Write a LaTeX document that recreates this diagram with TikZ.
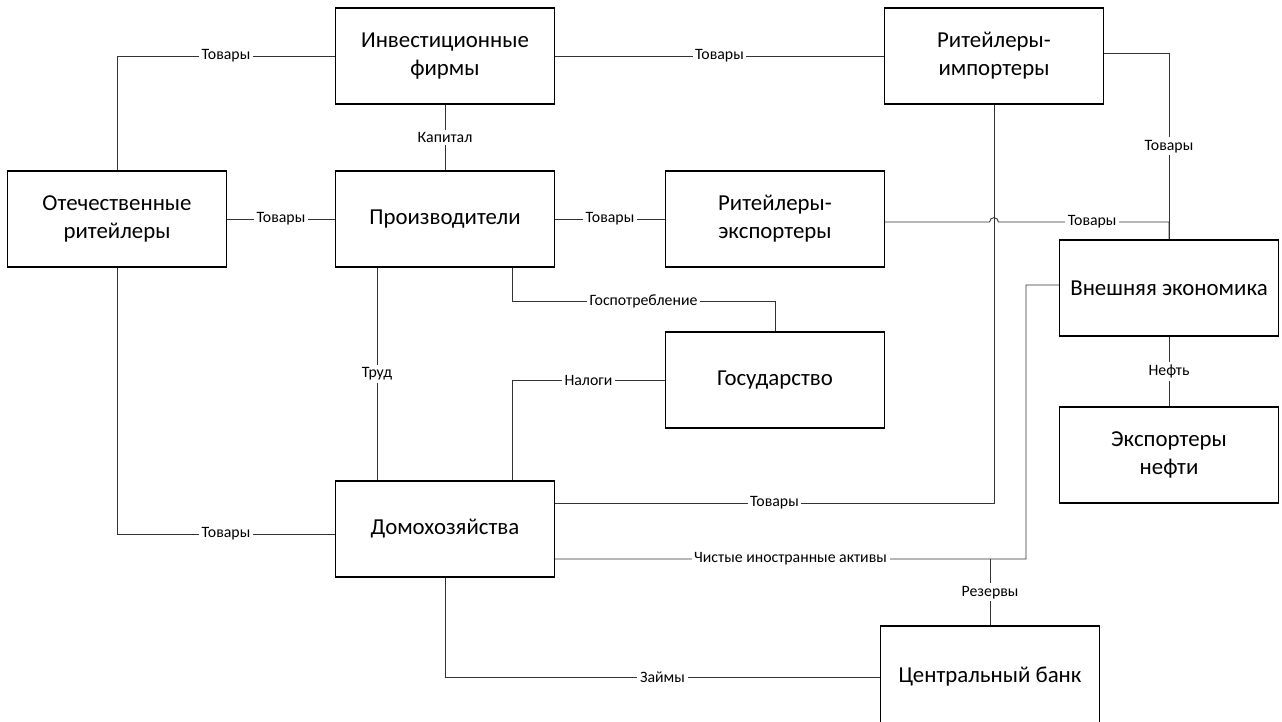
\documentclass[tikz,border=0pt]{standalone}
\usepackage{fontspec}
\setmainfont{Carlito}
\begin{document}
\begin{tikzpicture}[x={(0.02cm,0)},y={(0,-0.02cm)}]
    \tikzstyle{block}=[rectangle,draw=black,line width=0.6pt,minimum width=4.38cm,minimum height=1.92cm,align=center,font=\fontsize{13}{16}\selectfont]
    \tikzstyle{flow}=[fill=white,inner sep=1.5pt,font=\fontsize{9}{11}\selectfont]
    \tikzstyle{link}=[line width=0.5pt,draw=black!80]
    \useasboundingbox (0,0) rectangle (1282,722);
    \node (inv)[block] at (445,56) {Инвестиционные\\фирмы};
    \node (imp)[block] at (994,56) {Ритейлеры-\\импортеры};
    \node (otech)[block] at (117,219) {Отечественные\\ритейлеры};
    \node (prod)[block] at (445,219) {Производители};
    \node (exp)[block] at (775,219) {Ритейлеры-\\экспортеры};
    \node (ext)[block] at (1169,288) {Внешняя экономика};
    \node (gov)[block] at (775,380) {Государство};
    \node (oil)[block] at (1169,455) {Экспортеры\\нефти};
    \node (dom)[block] at (445,529) {Домохозяйства};
    \node (cb)[block,minimum height=2.04cm] at (990,677) {Центральный банк};
    \coordinate (nfa) at (1026,559);
    \coordinate (res) at (cb.north |- nfa);
    \draw [link] (otech.north) |- node[flow,pos=0.75] {Товары} (inv.west);
    \draw [link] (inv) -- node[flow] {Товары} (imp);
    \draw [link] (inv) -- node[flow] {Капитал} (prod);
    \draw [link] (otech) -- node[flow] {Товары} (prod);
    \draw [link] (prod) -- node[flow] {Товары} (exp);
    \draw [link] ([yshift=0.06cm]imp.east) -| node[flow,pos=0.75] {Товары} (ext.north);
    \draw [link] ([yshift=-0.06cm]exp.east) -- ([xshift=-2.5pt,yshift=-0.06cm]exp.east -| imp.south) arc[start angle=180,end angle=0,radius=2.5pt] -- node[flow,pos=0.55] {Товары} ([yshift=-0.06cm]exp.east -| ext.north) -- (ext.north);
    \draw [link] ([xshift=1.34cm]prod.south) -- ++(0,34) -| node[flow,pos=0.25] {Госпотребление} (gov.north);
    \draw [link] ([xshift=-1.36cm]prod.south) -- node[flow] {Труд} ([xshift=-1.36cm]dom.north);
    \draw [link] ([xshift=1.34cm]dom.north) |- node[flow,pos=0.75] {Налоги} (gov.west);
    \draw [link] ([yshift=0.52cm]dom.east) -| node[flow,pos=0.25] {Товары} (imp.south);
    \draw [link] ([yshift=-0.6cm]dom.east) -- node[flow] {Чистые иностранные активы} (nfa) |- ([yshift=0.06cm]ext.west);
    \draw [link] (res) -- node[flow] {Резервы} (cb.north);
    \draw [link] (dom.south) |- node[flow,pos=0.75] {Займы} (cb.west);
    \draw [link] (otech.south) |- node[flow,pos=0.75] {Товары} ([yshift=-0.1cm]dom.west);
    \draw [link] (ext) -- node[flow] {Нефть} (oil);
\end{tikzpicture}
\end{document}
